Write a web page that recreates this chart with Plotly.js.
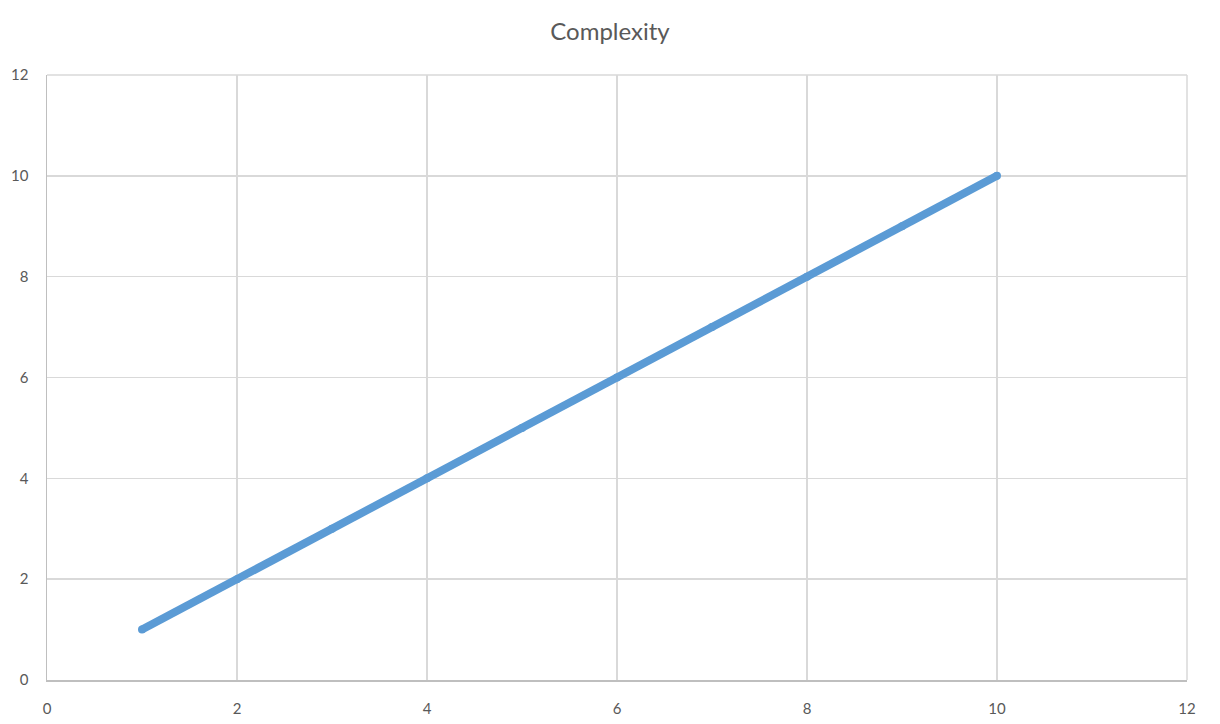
<!DOCTYPE html>
<html>
<head>
<meta charset="utf-8">
<script src="https://cdn.plot.ly/plotly-3.0.1.min.js"></script>
<style>html,body{margin:0;padding:0;background:#fff;}#chart{width:1220px;height:724px;}</style>
</head>
<body>
<div id="chart"></div>
<script>
const xValues = [1, 2, 3, 4, 5, 6, 7, 8, 9, 10];
const yValues = [1, 2, 3, 4, 5, 6, 7, 8, 9, 10];
const chartTitle = "Complexity";

const trace = {
  x: xValues,
  y: yValues,
  type: 'scatter',
  mode: 'lines+markers',
  line: {color: '#5b9bd5', width: 8},
  marker: {color: '#5b9bd5', size: 8},
  hoverinfo: 'x+y',
  showlegend: false
};

const layout = {
  width: 1220,
  height: 724,
  margin: {l: 47, r: 33, t: 75, b: 44},
  paper_bgcolor: '#ffffff',
  plot_bgcolor: '#ffffff',
  font: {family: 'Lato, "Open Sans", sans-serif', size: 15, color: '#595959'},
  title: {text: chartTitle, font: {size: 24, color: '#595959'}, x: 0.5, xanchor: 'center', y: 0.957, yanchor: 'middle'},
  shapes: [
    {type: 'line', xref: 'x domain', yref: 'y domain', x0: 0, x1: 1, y0: 1, y1: 1, line: {color: '#d9d9d9', width: 1.5}, layer: 'below'},
    {type: 'line', xref: 'x domain', yref: 'y domain', x0: 1, x1: 1, y0: 0, y1: 1, line: {color: '#d9d9d9', width: 1.5}, layer: 'below'}
  ],
  xaxis: {
    range: [0, 12],
    dtick: 2,
    tick0: 0,
    showgrid: true,
    gridcolor: '#d9d9d9',
    gridwidth: 1.5,
    showline: true,
    linecolor: '#bfbfbf',
    linewidth: 1.5,
    mirror: false,
    zeroline: false,
    ticks: '',
    ticklabelstandoff: 14,
    tickfont: {size: 15, color: '#595959'}
  },
  yaxis: {
    range: [0, 12],
    dtick: 2,
    tick0: 0,
    showgrid: true,
    gridcolor: '#d9d9d9',
    gridwidth: 1.5,
    showline: true,
    linecolor: '#bfbfbf',
    linewidth: 1.5,
    zeroline: false,
    ticks: '',
    ticklabelstandoff: 14,
    tickfont: {size: 15, color: '#595959'}
  }
};

Plotly.newPlot('chart', [trace], layout, {displayModeBar: false, staticPlot: true});
</script>
</body>
</html>
